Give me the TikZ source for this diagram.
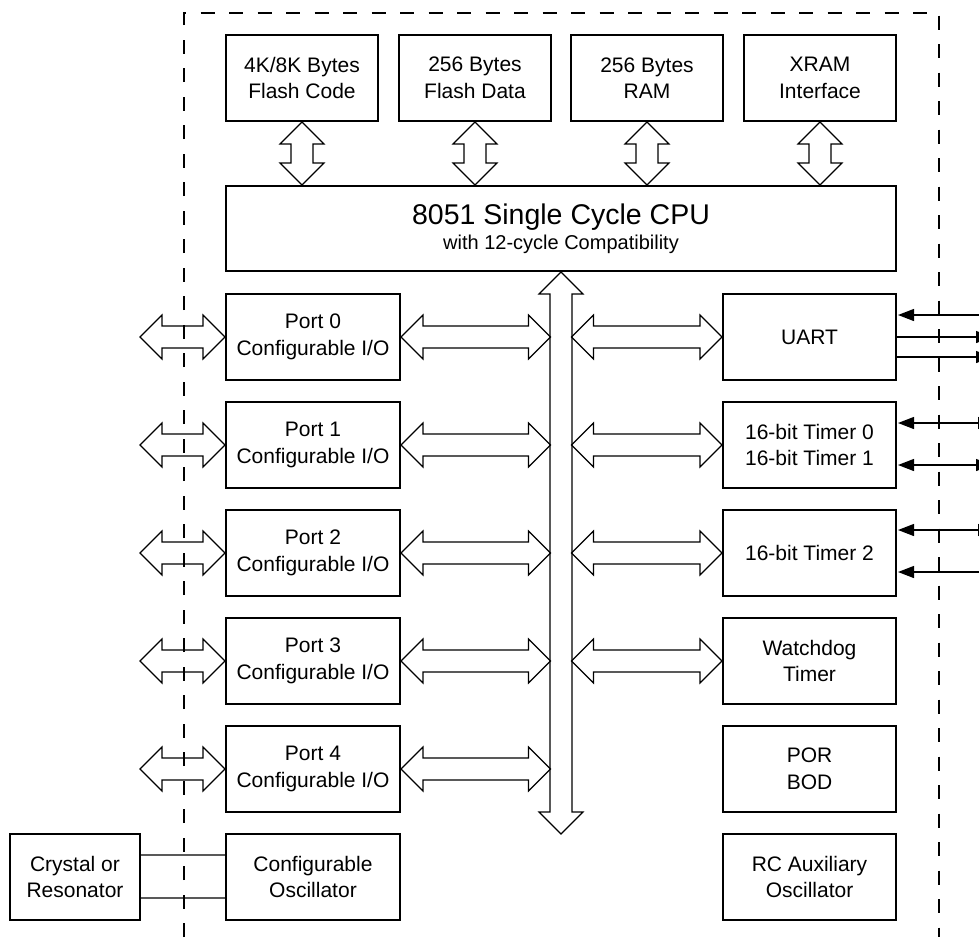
\documentclass[tikz,border=0pt]{standalone}
\usepackage{fontspec}
\setmainfont{Liberation Sans}
\usetikzlibrary{arrows.meta,calc}
\tikzset{
  blk/.style={draw=black, line width=2pt, minimum width=#1, minimum height=86pt,
    inner sep=0pt, align=center, font=\fontsize{21}{26.5}\selectfont},
  blk/.default=174pt,
  hollow/.style={draw=black, line width=1.1pt, line join=miter},
  sig/.style={draw=black, line width=1.3pt},
  sigtip/.tip={Triangle[length=16pt, width=12pt]},
  xline/.style={draw=black!65, line width=1.6pt},
  border/.style={draw=black, line width=1.2pt, dash pattern=on 14pt off 14.5pt}
}
\newcommand\HArrow[2]{%
  \draw[hollow] let \p1=#1, \p2=#2 in
    (\x1,\y1) -- (\x1+22pt,\y1+22pt) -- (\x1+22pt,\y1+11pt) -- (\x2-22pt,\y1+11pt)
    -- (\x2-22pt,\y1+22pt) -- (\x2,\y1) -- (\x2-22pt,\y1-22pt) -- (\x2-22pt,\y1-11pt)
    -- (\x1+22pt,\y1-11pt) -- (\x1+22pt,\y1-22pt) -- cycle;}
\newcommand\VArrow[2]{%
  \draw[hollow] let \p1=#1, \p2=#2 in
    (\x1,\y1) -- (\x1+22pt,\y1-22pt) -- (\x1+11pt,\y1-22pt) -- (\x1+11pt,\y2+22pt)
    -- (\x1+22pt,\y2+22pt) -- (\x1,\y2) -- (\x1-22pt,\y2+22pt) -- (\x1-11pt,\y2+22pt)
    -- (\x1-11pt,\y1-22pt) -- (\x1-22pt,\y1-22pt) -- cycle;}
\begin{document}
\begin{tikzpicture}[x=1pt, y=-1pt]
\useasboundingbox (0,0) rectangle (979,937);
\clip (0,0) rectangle (979,937);

% memories
\node[blk=152pt] (fc) at (302,78) {4K/8K Bytes\\Flash Code};
\node[blk=152pt] (fd) at (475,78) {256 Bytes\\Flash Data};
\node[blk=152pt] (ram) at (647,78) {256 Bytes\\RAM};
\node[blk=152pt] (xram) at (820,78) {XRAM\\Interface};

% CPU
\node[blk=670pt, minimum height=85pt] (cpu) at (561,228.5)
  {{\fontsize{28.5}{30}\selectfont 8051 Single Cycle CPU}\\[-2pt]
   {\fontsize{20}{24}\selectfont with 12-cycle Compatibility}};

% ports
\node[blk] (p0) at (313,337) {Port 0\\Configurable I/O};
\node[blk] (p1) at (313,445) {Port 1\\Configurable I/O};
\node[blk] (p2) at (313,553) {Port 2\\Configurable I/O};
\node[blk] (p3) at (313,661) {Port 3\\Configurable I/O};
\node[blk] (p4) at (313,769) {Port 4\\Configurable I/O};
\node[blk] (osc) at (313,877) {Configurable\\Oscillator};
\node[blk=130pt] (xtal) at (75,877) {Crystal or\\Resonator};

% peripherals
\node[blk=173pt] (uart) at (809.5,337) {UART};
\node[blk=173pt] (t01) at (809.5,445) {16-bit Timer 0\\16-bit Timer 1};
\node[blk=173pt] (t2) at (809.5,553) {16-bit Timer 2};
\node[blk=173pt] (wdt) at (809.5,661) {Watchdog\\Timer};
\node[blk=173pt] (por) at (809.5,769) {POR\\BOD};
\node[blk=173pt] (rc) at (809.5,877) {RC Auxiliary\\Oscillator};

% helper coordinates
\coordinate (busB) at (561,834);
\coordinate (busL) at (550.5,0);
\coordinate (busR) at (571.5,0);
\coordinate (pinL) at (140,0);
\coordinate (edgeR) at (979,0);
\coordinate (farR) at (992,0);
\coordinate (farR2) at (994,0);

% memory <-> CPU
\VArrow{(fc.south)}{(fc.south |- cpu.north)}
\VArrow{(fd.south)}{(fd.south |- cpu.north)}
\VArrow{(ram.south)}{(ram.south |- cpu.north)}
\VArrow{(xram.south)}{(xram.south |- cpu.north)}

% internal bus
\VArrow{(cpu.south)}{(busB)}

% ports <-> bus, pins <-> ports
\HArrow{(p0.east)}{(p0.east -| busL)}
\HArrow{(p1.east)}{(p1.east -| busL)}
\HArrow{(p2.east)}{(p2.east -| busL)}
\HArrow{(p3.east)}{(p3.east -| busL)}
\HArrow{(p4.east)}{(p4.east -| busL)}
\HArrow{(p0.west -| pinL)}{(p0.west)}
\HArrow{(p1.west -| pinL)}{(p1.west)}
\HArrow{(p2.west -| pinL)}{(p2.west)}
\HArrow{(p3.west -| pinL)}{(p3.west)}
\HArrow{(p4.west -| pinL)}{(p4.west)}
% bus <-> peripherals
\HArrow{(uart.west -| busR)}{(uart.west)}
\HArrow{(t01.west -| busR)}{(t01.west)}
\HArrow{(t2.west -| busR)}{(t2.west)}
\HArrow{(wdt.west -| busR)}{(wdt.west)}

% crystal
\draw[xline] ($(xtal.north east)+(0,22)$) -- ($(osc.north west)+(0,22)$);
\draw[xline] ($(xtal.north east)+(0,65)$) -- ($(osc.north west)+(0,65)$);

% external signals
\draw[sig, -{sigtip}] ($(uart.north east -| edgeR)+(0,22)$) -- ($(uart.north east)+(1,22)$);
\draw[sig, -{sigtip}] ($(uart.north east)+(0,44)$) -- ($(uart.north east -| farR)+(0,44)$);
\draw[sig, -{sigtip}] ($(uart.north east)+(0,64)$) -- ($(uart.north east -| farR)+(0,64)$);
\draw[sig, {sigtip}-{sigtip}] ($(t01.north east)+(1,22)$) -- ($(t01.north east -| farR2)+(0,22)$);
\draw[sig, {sigtip}-{sigtip}] ($(t01.north east)+(1,64)$) -- ($(t01.north east -| farR)+(0,64)$);
\draw[sig, {sigtip}-{sigtip}] ($(t2.north east)+(1,21)$) -- ($(t2.north east -| farR2)+(0,21)$);
\draw[sig, -{sigtip}] ($(t2.north east -| edgeR)+(0,63)$) -- ($(t2.north east)+(1,63)$);

% chip boundary
\draw[border] (184,937) -- (184,13) -- (939,13) -- (939,937);
\end{tikzpicture}
\end{document}
